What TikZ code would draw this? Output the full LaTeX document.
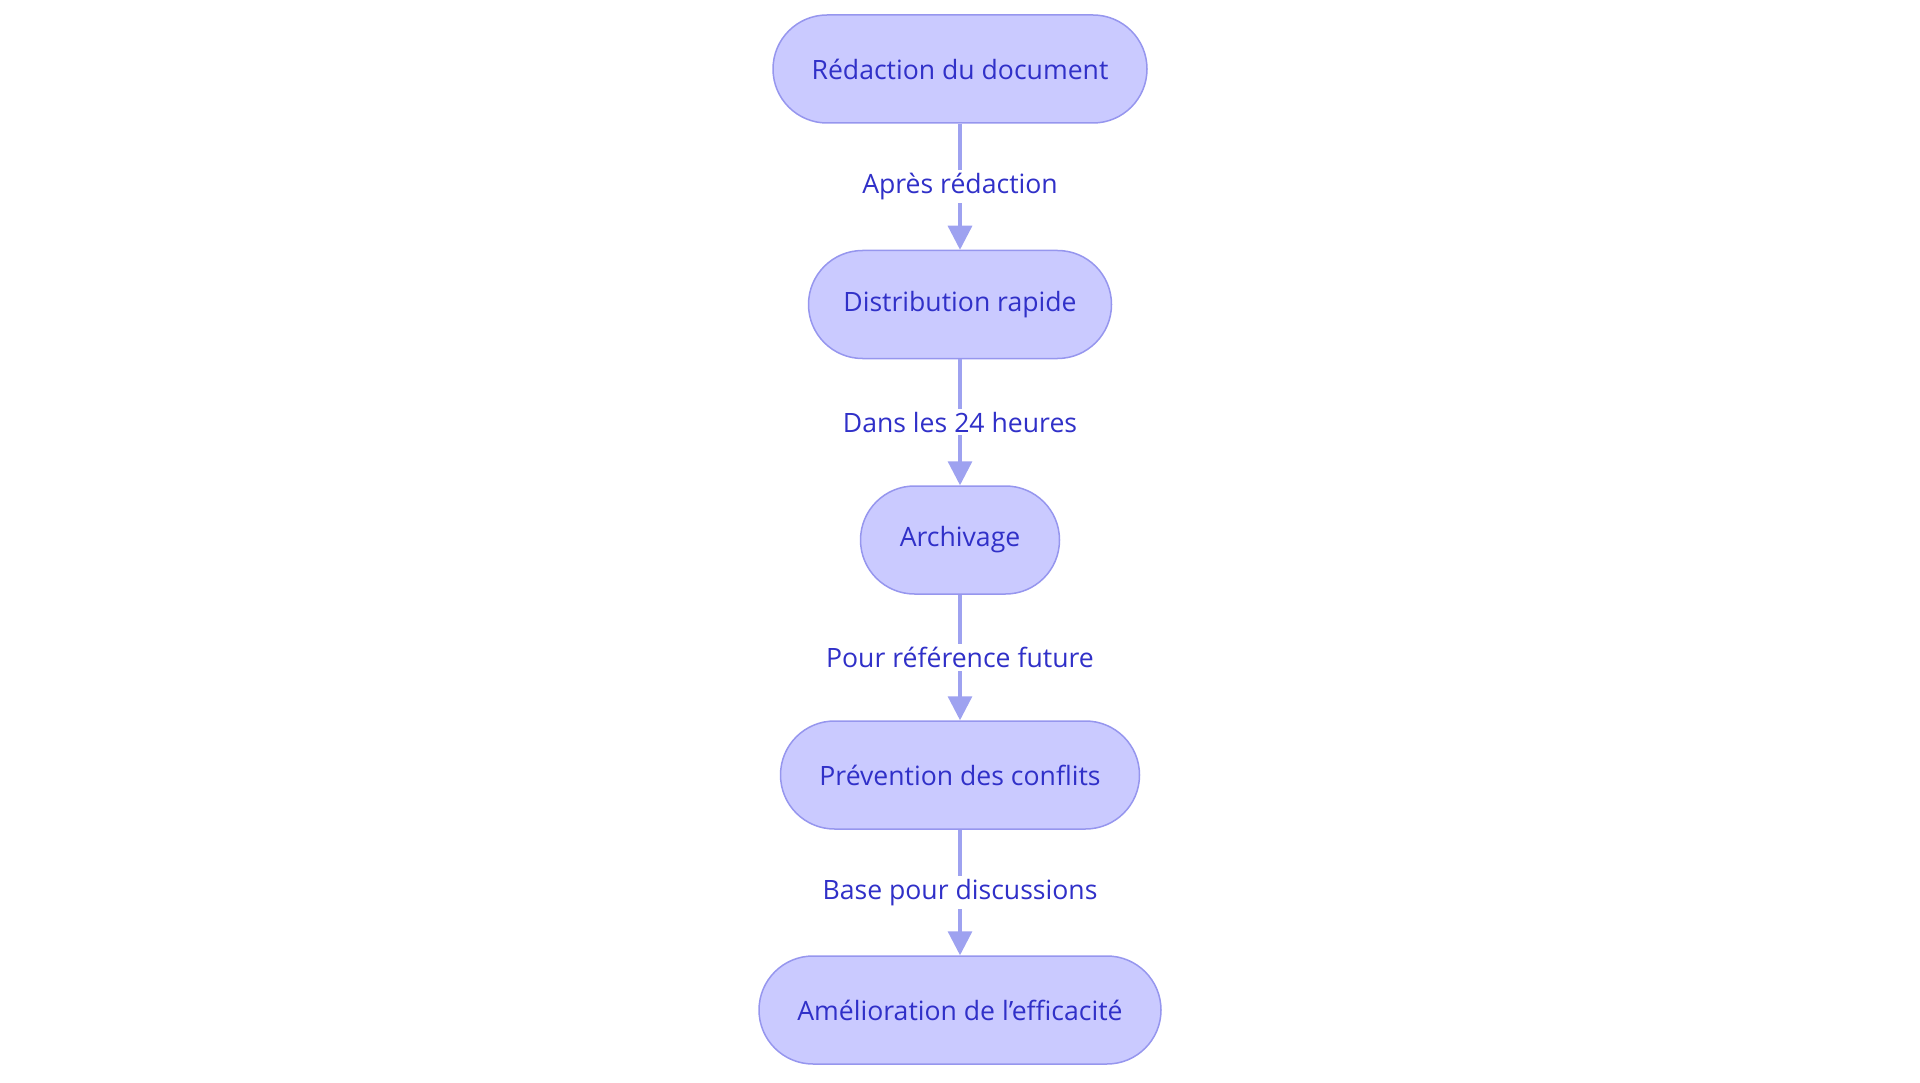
\documentclass[tikz,border=0pt]{standalone}
\usepackage{fontspec}
\setmainfont{Open Sans}
\usetikzlibrary{arrows.meta}
\definecolor{nodefill}{RGB}{202,202,255}
\definecolor{nodestroke}{RGB}{150,150,238}
\definecolor{edgecol}{RGB}{158,162,240}
\definecolor{txtcol}{RGB}{48,48,200}
\tikzset{
  flowbox/.style={draw=nodestroke, fill=nodefill, line width=1.5pt, rounded corners=54pt,
    minimum height=108pt, inner sep=0pt, text=txtcol, font=\fontsize{26.6}{31}\selectfont},
  flowedge/.style={draw=edgecol, line width=3.3pt, -{Triangle[length=24pt,width=24pt]}},
  edgelabel/.style={fill=white, text=txtcol, inner xsep=2pt, inner ysep=3pt, font=\fontsize{26.6}{31}\selectfont}
}
\begin{document}
\begin{tikzpicture}[x=1pt,y=-1pt]
\useasboundingbox (0,0) rectangle (1920,1083);
\node[flowbox, minimum width=374pt] (n1) at (960,69) {Rédaction du document};
\node[flowbox, minimum width=303pt] (n2) at (960,304.5) {Distribution rapide};
\node[flowbox, minimum width=199pt] (n3) at (960,540) {Archivage};
\node[flowbox, minimum width=359pt] (n4) at (960,775) {Prévention des conflits};
\node[flowbox, minimum width=402pt] (n5) at (960,1010) {Amélioration de l’efficacité};
\draw[flowedge] (n1) -- node[edgelabel] {Après rédaction} (n2);
\draw[flowedge] (n2) -- node[edgelabel] {Dans les 24 heures} (n3);
\draw[flowedge] (n3) -- node[edgelabel] {Pour référence future} (n4);
\draw[flowedge] (n4) -- node[edgelabel] {Base pour discussions} (n5);
\end{tikzpicture}
\end{document}
